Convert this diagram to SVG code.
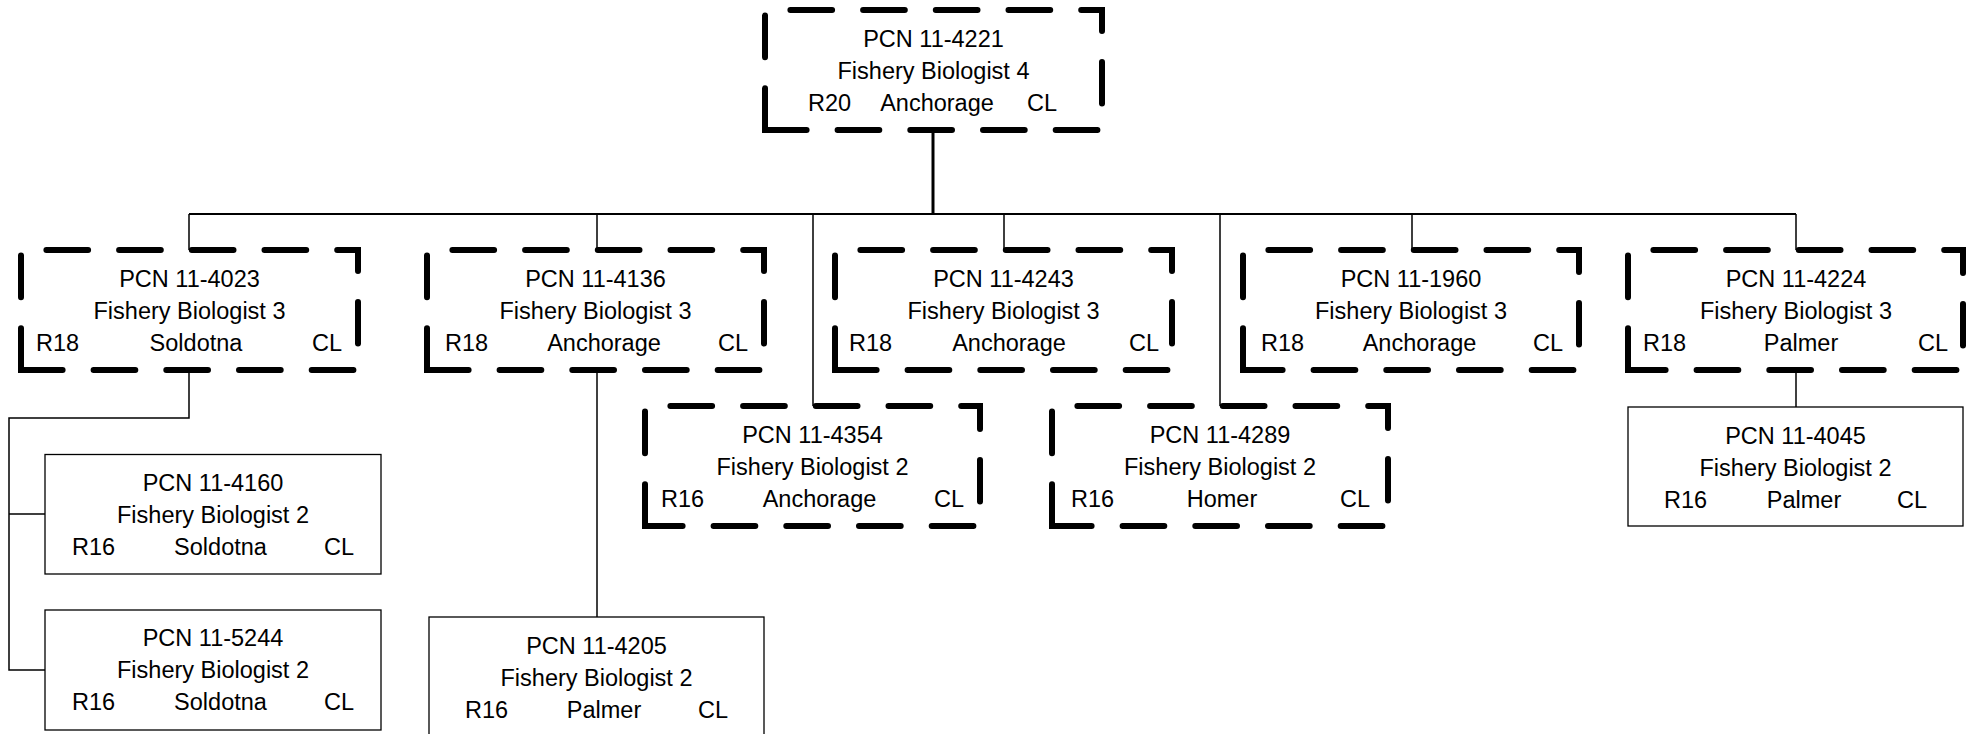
<svg xmlns="http://www.w3.org/2000/svg" width="1967" height="734" viewBox="0 0 1967 734">
<style>
.dash{fill:#fff;stroke:#000;stroke-width:6;stroke-dasharray:41.7 31;stroke-linecap:round;stroke-linejoin:miter}
.solid{fill:#fff;stroke:#000;stroke-width:1.3}
.ln{fill:none;stroke:#000;stroke-width:1.5}
text{font-family:"Liberation Sans",Arial,sans-serif;font-size:23.5px;fill:#000}
.m{text-anchor:middle}
.s{text-anchor:start}
.e{text-anchor:end}
</style>
<rect width="1967" height="734" fill="#fff"/>
<g id="connectors">
<path class="ln" style="stroke-width:3" d="M933,130V214"/>
<path class="ln" style="stroke-width:1.9" d="M189,214H1796"/>
<path class="ln" d="M189,214V250M597,214V250M1004,214V250M1412,214V250M1796,214V250"/>
<path class="ln" d="M813,214V406M1220,214V406"/>
<path class="ln" d="M189,370V418H9V670H45M9,514H45"/>
<path class="ln" d="M597,370V617"/>
<path class="ln" d="M1796,370V407"/>
</g>
<g id="n4221">
<path class="dash" d="M765,130V10H1102V130Z"/>
<text class="m" x="933.5" y="47">PCN 11-4221</text>
<text class="m" x="933.5" y="79">Fishery Biologist 4</text>
<text class="s" x="808" y="111">R20</text><text class="m" x="937" y="111">Anchorage</text><text class="e" x="1057" y="111">CL</text>
</g>
<g id="n4023">
<path class="dash" d="M21,370V250H358V370Z"/>
<text class="m" x="189.5" y="287">PCN 11-4023</text>
<text class="m" x="189.5" y="319">Fishery Biologist 3</text>
<text class="s" x="36" y="351">R18</text><text class="m" x="196" y="351">Soldotna</text><text class="e" x="342" y="351">CL</text>
</g>
<g id="n4136">
<path class="dash" d="M427,370V250H764V370Z"/>
<text class="m" x="595.5" y="287">PCN 11-4136</text>
<text class="m" x="595.5" y="319">Fishery Biologist 3</text>
<text class="s" x="445" y="351">R18</text><text class="m" x="604" y="351">Anchorage</text><text class="e" x="748" y="351">CL</text>
</g>
<g id="n4243">
<path class="dash" d="M835,370V250H1172V370Z"/>
<text class="m" x="1003.5" y="287">PCN 11-4243</text>
<text class="m" x="1003.5" y="319">Fishery Biologist 3</text>
<text class="s" x="849" y="351">R18</text><text class="m" x="1009" y="351">Anchorage</text><text class="e" x="1159" y="351">CL</text>
</g>
<g id="n1960">
<path class="dash" d="M1243,370V250H1579V370Z"/>
<text class="m" x="1411" y="287">PCN 11-1960</text>
<text class="m" x="1411" y="319">Fishery Biologist 3</text>
<text class="s" x="1261" y="351">R18</text><text class="m" x="1419.5" y="351">Anchorage</text><text class="e" x="1563" y="351">CL</text>
</g>
<g id="n4224">
<path class="dash" d="M1628,370V250H1963V370Z"/>
<text class="m" x="1796" y="287">PCN 11-4224</text>
<text class="m" x="1796" y="319">Fishery Biologist 3</text>
<text class="s" x="1643" y="351">R18</text><text class="m" x="1801" y="351">Palmer</text><text class="e" x="1948" y="351">CL</text>
</g>
<g id="n4354">
<path class="dash" d="M645,526V406H980V526Z"/>
<text class="m" x="812.5" y="443">PCN 11-4354</text>
<text class="m" x="812.5" y="475">Fishery Biologist 2</text>
<text class="s" x="661" y="507">R16</text><text class="m" x="819.5" y="507">Anchorage</text><text class="e" x="964" y="507">CL</text>
</g>
<g id="n4289">
<path class="dash" d="M1052,526V406H1388V526Z"/>
<text class="m" x="1220" y="443">PCN 11-4289</text>
<text class="m" x="1220" y="475">Fishery Biologist 2</text>
<text class="s" x="1071" y="507">R16</text><text class="m" x="1222" y="507">Homer</text><text class="e" x="1370" y="507">CL</text>
</g>
<g id="n4160">
<rect class="solid" x="45" y="454.5" width="336" height="119.5"/>
<text class="m" x="213" y="491">PCN 11-4160</text>
<text class="m" x="213" y="523">Fishery Biologist 2</text>
<text class="s" x="72" y="555">R16</text><text class="m" x="220.5" y="555">Soldotna</text><text class="e" x="354" y="555">CL</text>
</g>
<g id="n5244">
<rect class="solid" x="45" y="610" width="336" height="120"/>
<text class="m" x="213" y="646">PCN 11-5244</text>
<text class="m" x="213" y="678">Fishery Biologist 2</text>
<text class="s" x="72" y="710">R16</text><text class="m" x="220.5" y="710">Soldotna</text><text class="e" x="354" y="710">CL</text>
</g>
<g id="n4205">
<rect class="solid" x="429" y="617" width="335" height="120"/>
<text class="m" x="596.5" y="654">PCN 11-4205</text>
<text class="m" x="596.5" y="686">Fishery Biologist 2</text>
<text class="s" x="465" y="718">R16</text><text class="m" x="604" y="718">Palmer</text><text class="e" x="728" y="718">CL</text>
</g>
<g id="n4045">
<rect class="solid" x="1628" y="407" width="335" height="119"/>
<text class="m" x="1795.5" y="444">PCN 11-4045</text>
<text class="m" x="1795.5" y="476">Fishery Biologist 2</text>
<text class="s" x="1664" y="508">R16</text><text class="m" x="1804" y="508">Palmer</text><text class="e" x="1927" y="508">CL</text>
</g>
</svg>
